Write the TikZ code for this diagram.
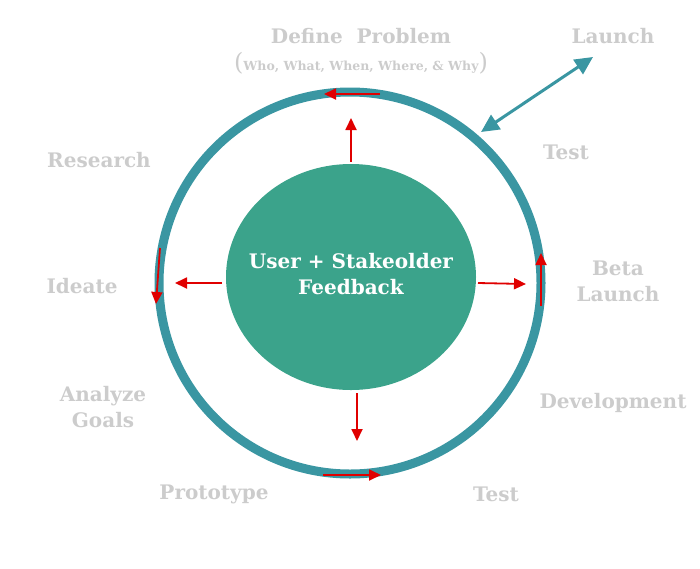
\documentclass[tikz,border=0pt]{standalone}
\usepackage{fontspec}
\setmainfont{DejaVu Serif}
\usetikzlibrary{arrows.meta}

\definecolor{ringteal}{HTML}{3A96A2}
\definecolor{coreteal}{HTML}{3BA38B}
\definecolor{labelgray}{HTML}{CCCCCC}
\definecolor{flowred}{HTML}{E00000}

\tikzset{
  lbl/.style={text=labelgray, font=\bfseries\fontsize{20}{26}\selectfont, align=center},
  flow/.style={flowred, line width=1.8pt, -{Triangle[length=12pt,width=11pt]}},
  launcharrow/.style={ringteal, line width=3pt, {Triangle[length=18pt,width=17pt]}-{Triangle[length=18pt,width=17pt]}},
}

\begin{document}
\begin{tikzpicture}[x=1pt,y=-1pt]
  \useasboundingbox (0,0) rectangle (700,568);

  % the cycle
  \draw[ringteal, line width=9pt] (350,283) circle (191pt);
  \fill[coreteal] (351,277) ellipse [x radius=125pt, y radius=113pt];
  \node (core) [text=white, font=\bfseries\fontsize{20}{26}\selectfont, align=center] at (351,274)
    {User + Stakeolder\\Feedback};

  % stages
  \node (define) [lbl] at (361,36) {Define\ \ Problem};
  \node (who) [text=labelgray, font=\bfseries\fontsize{12.5}{14}\selectfont] at (361,63)
    {{\mdseries\fontsize{24}{24}\selectfont(}Who, What, When, Where, \& Why{\mdseries\fontsize{24}{24}\selectfont)}};
  \node (launch) [lbl] at (613,36) {Launch};
  \node (test1) [lbl] at (566,152) {Test};
  \node (research) [lbl] at (99,160) {Research};
  \node (ideate) [lbl] at (82,286) {Ideate};
  \node (beta) [lbl] at (618,281) {Beta\\Launch};
  \node (analyze) [lbl] at (103,407) {Analyze\\Goals};
  \node (develop) [lbl] at (613,403) {Development};
  \node (proto) [lbl] at (214,494) {Prototype};
  \node (test2) [lbl] at (496,494) {Test};

  % feedback arrows out of the core
  \coordinate (outN) at (351,118);
  \coordinate (outW) at (175,283);
  \coordinate (outE) at (526,284);
  \coordinate (outS) at (357,441);
  \draw[flow] (351,162) -- (outN);
  \draw[flow] (222,283) -- (outW);
  \draw[flow] (478,283) -- (outE);
  \draw[flow] (357,393) -- (outS);

  % direction on the ring
  \coordinate (ringN) at (324,94);
  \coordinate (ringW) at (156,304);
  \coordinate (ringE) at (541,253);
  \coordinate (ringS) at (381,475);
  \draw[flow] (380,94) -- (ringN);
  \draw[flow] (160,248) -- (ringW);
  \draw[flow] (541,306) -- (ringE);
  \draw[flow] (323,475) -- (ringS);

  % release
  \coordinate (ringNE) at (481,132);
  \coordinate (launchtip) at (593,57);
  \draw[launcharrow] (ringNE) -- (launchtip);
\end{tikzpicture}
\end{document}
